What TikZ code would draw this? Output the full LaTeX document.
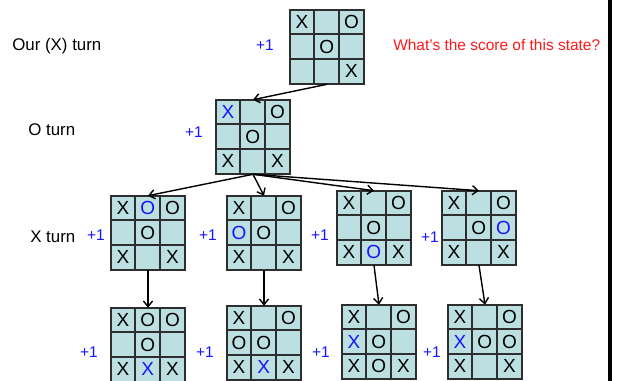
\documentclass[tikz,border=0pt]{standalone}
\usepackage{fontspec}
\setmainfont{Liberation Sans}
\usetikzlibrary{arrows.meta,calc}
\definecolor{Cell}{HTML}{BCE0E2}
\definecolor{Grid}{HTML}{2E2E2E}
\definecolor{Move}{HTML}{1414FF}
\definecolor{Query}{HTML}{FF1A1A}
\newcommand{\cellw}{24.67}
\newcommand{\tttboard}[3]{%
\node[board] (#1) at #2 {};
\foreach \i in {1,2}{\draw[gridline] ($(#1.north west)+(\i*\cellw,0)$)--($(#1.south west)+(\i*\cellw,0)$);\draw[gridline] ($(#1.north west)+(0,\i*\cellw)$)--($(#1.north east)+(0,\i*\cellw)$);}
\draw[gridline] (#1.north west) rectangle (#1.south east);
\foreach \c/\r/\m/\col in {#3}{\node[cellmark,text=\col] at ($(#1.north west)+(\c*\cellw+\cellw/2,\r*\cellw+\cellw/2)$) {\m};}}

\begin{document}
\begin{tikzpicture}[x=0.025cm,y=-0.025cm,board/.style={rectangle,fill=Cell,draw=none,minimum size=1.85cm,inner sep=0pt},gridline/.style={draw=Grid,line width=1.3pt},cellmark/.style={inner sep=0pt,font=\fontsize{13.5}{15}\selectfont},turn/.style={anchor=west,inner sep=0pt,font=\fontsize{12}{14}\selectfont},score/.style={text=Move,inner sep=0pt,font=\fontsize{11}{13}\selectfont},link/.style={-{Straight Barb[length=4pt,width=6.5pt]},line width=1pt,draw=black}]
\useasboundingbox (0,0) rectangle (621,381);
\draw[black,line width=2.2pt] (610,0)--(610,381);
% labels on the left
\node[turn] (ourturn) at (12,46) {Our (X) turn};\node[turn] (oturn) at (28,130) {O turn};\node[turn] (xturn) at (30,237) {X turn};
\node[anchor=west,inner sep=0pt,text=Query,font=\fontsize{11}{13}\selectfont] (question) at (393,45) {What’s the score of this state?};
% the boards, row by row
\tttboard{root}{(327,47)}{0/0/X/black,2/0/O/black,1/1/O/black,2/2/X/black}
\tttboard{omove}{(253,137)}{0/0/X/Move,2/0/O/black,1/1/O/black,0/2/X/black,2/2/X/black}
\tttboard{xa}{(148,233)}{0/0/X/black,1/0/O/Move,2/0/O/black,1/1/O/black,0/2/X/black,2/2/X/black}
\tttboard{xb}{(264,233)}{0/0/X/black,2/0/O/black,0/1/O/Move,1/1/O/black,0/2/X/black,2/2/X/black}
\tttboard{xc}{(374,228)}{0/0/X/black,2/0/O/black,1/1/O/black,0/2/X/black,1/2/O/Move,2/2/X/black}
\tttboard{xd}{(479,228)}{0/0/X/black,2/0/O/black,1/1/O/black,2/1/O/Move,0/2/X/black,2/2/X/black}
\tttboard{ya}{(148,345)}{0/0/X/black,1/0/O/black,2/0/O/black,1/1/O/black,0/2/X/black,1/2/X/Move,2/2/X/black}
\tttboard{yb}{(264,343)}{0/0/X/black,2/0/O/black,0/1/O/black,1/1/O/black,0/2/X/black,1/2/X/Move,2/2/X/black}
\tttboard{yc}{(379,342)}{0/0/X/black,2/0/O/black,0/1/X/Move,1/1/O/black,0/2/X/black,1/2/O/black,2/2/X/black}
\tttboard{yd}{(485,342)}{0/0/X/black,2/0/O/black,0/1/X/Move,1/1/O/black,2/1/O/black,0/2/X/black,2/2/X/black}
% scores
\node[score] (sroot) at (265,45) {+1};\node[score] (somove) at (194,132) {+1};
\node[score] (sxa) at (96,235) {+1};\node[score] (sxb) at (208,235) {+1};\node[score] (sxc) at (320,235) {+1};\node[score] (sxd) at (430,237) {+1};
\node[score] (sya) at (89,352) {+1};\node[score] (syb) at (205,352) {+1};\node[score] (syc) at (321,352) {+1};\node[score] (syd) at (432,352) {+1};
% moves
\draw[link] (root.south)--(omove.north);
\foreach \b in {xa,xb,xc,xd}{\draw[link] (omove.south)--(\b.north);}
\draw[link] (xa.south)--(ya.north);\draw[link] (xb.south)--(yb.north);\draw[link] (xc.south)--(yc.north);\draw[link] (xd.south)--(yd.north);
\end{tikzpicture}
\end{document}
